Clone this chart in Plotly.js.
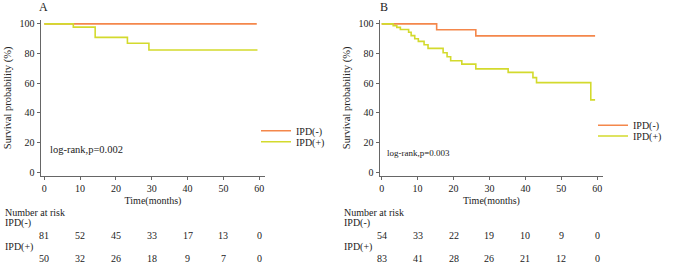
<!DOCTYPE html>
<html>
<head>
<meta charset="utf-8">
<script src="https://cdn.plot.ly/plotly-3.0.1.min.js"></script>
<style>html,body{margin:0;padding:0;background:#fff;}#chart{width:685px;height:271px;}</style>
</head>
<body>
<div id="chart"></div>
<script>
// ---- data ----
const timeTicks = [0, 10, 20, 30, 40, 50, 60];
const seriesNames = ["IPD(-)", "IPD(+)"];

// Panel A
const aNegTime = [0, 59.3];
const aNegSurv = [100, 100];
const aPosTime = [0, 8.1, 14.2, 23.2, 29.2, 59.5];
const aPosSurv = [100, 97.8, 90.9, 86.9, 82.4, 82.4];
const aRiskNeg = [81, 52, 45, 33, 17, 13, 0];
const aRiskPos = [50, 32, 26, 18, 9, 7, 0];
const aPval = "log-rank,p=0.002";

// Panel B
const bNegTime = [0, 15.3, 26.2, 59.4];
const bNegSurv = [100, 96.0, 91.9, 91.9];
const bPosTime = [0, 3.2, 4.2, 5.2, 7.5, 8.2, 9.2, 10.2, 11.8, 12.9, 17.1, 18.2, 19.2, 22.3, 26.2, 35.2, 42.1, 43.1, 58.2, 59.4];
const bPosSurv = [100, 98.8, 97.6, 96.2, 94.3, 92.1, 90.0, 88.2, 85.9, 83.5, 80.5, 77.8, 75.1, 72.9, 69.7, 67.3, 63.8, 60.4, 48.8, 48.8];
const bRiskNeg = [54, 33, 22, 19, 10, 9, 0];
const bRiskPos = [83, 41, 28, 26, 21, 12, 0];
const bPval = "log-rank,p=0.003";

// ---- style ----
const W = 685, H = 271;
const FONT = "Liberation Serif";
const C_NEG = "#F4874B";
const C_POS = "#D3DA2D";
const TXT = "#222";
const px = v => v / W;
const py = v => 1 - v / H;

function trace(x, y, name, color, xa, ya, leg) {
  return {x, y, name, type: "scatter", mode: "lines", line: {shape: "hv", color, width: 1.6},
          xaxis: xa, yaxis: ya, legend: leg, showlegend: true, hoverinfo: "skip"};
}
const data = [
  trace(aNegTime, aNegSurv, seriesNames[0], C_NEG, "x", "y", "legend"),
  trace(aPosTime, aPosSurv, seriesNames[1], C_POS, "x", "y", "legend2"),
  trace(bNegTime, bNegSurv, seriesNames[0], C_NEG, "x2", "y2", "legend3"),
  trace(bPosTime, bPosSurv, seriesNames[1], C_POS, "x2", "y2", "legend4")
];

function xax(domain, range, anchor) {
  return {domain, range, anchor, tickvals: timeTicks, ticks: "outside", ticklen: 3, tickwidth: 1,
          tickcolor: "#666", showline: true, linecolor: "#666", linewidth: 1.5, zeroline: false,
          showgrid: false, tickfont: {family: FONT, size: 10, color: TXT},
          title: {text: "Time(months)", font: {family: FONT, size: 10, color: TXT}, standoff: 4}};
}
function yax(domain, range, anchor) {
  return {domain, range, anchor, tickvals: [0, 20, 40, 60, 80, 100], ticks: "outside", ticklen: 3,
          tickwidth: 1, tickcolor: "#666", showline: true, linecolor: "#666", linewidth: 1.5,
          zeroline: false, showgrid: false, tickfont: {family: FONT, size: 10, color: TXT},
          title: {text: "Survival probability (%)", font: {family: FONT, size: 10.5, color: TXT}, standoff: 6}};
}
function leg(xp, yp) {
  return {x: px(xp), y: py(yp), xanchor: "left", yanchor: "middle", bgcolor: "rgba(0,0,0,0)",
          font: {family: FONT, size: 10, color: TXT}, itemwidth: 30, borderwidth: 0};
}

const annotations = [];
function txt(text, x, y, size, xref, xanchor) {
  annotations.push({text, x, y: py(y), xref: xref || "paper", yref: "paper", showarrow: false,
    xanchor: xanchor || "left", yanchor: "middle", font: {family: FONT, size: size || 10, color: TXT}});
}
// panel letters
txt("A", px(43.7), 6.5, 12, "paper", "center");
txt("B", px(383.7), 6.5, 12, "paper", "center");
// p-values
txt(aPval, px(47.5), 149, 10.5);
txt(bPval, px(385), 152.7, 9);
// risk tables
function riskTable(leftPx, xref, negRisk, posRisk) {
  txt("Number at risk", px(leftPx), 212.7, 10);
  txt(seriesNames[0], px(leftPx), 223, 10);
  txt(seriesNames[1], px(leftPx), 247, 10);
  timeTicks.forEach((t, i) => {
    txt(String(negRisk[i]), t, 235.7, 10, xref, "center");
    txt(String(posRisk[i]), t, 258.3, 10, xref, "center");
  });
}
riskTable(3, "x", aRiskNeg, aRiskPos);
riskTable(342, "x2", bRiskNeg, bRiskPos);

const layout = {
  width: W, height: H, margin: {l: 0, r: 0, t: 0, b: 0}, paper_bgcolor: "#fff", plot_bgcolor: "#fff",
  font: {family: FONT, size: 10, color: TXT},
  xaxis: xax([px(41), px(265)], [-0.92, 61.6], "y"),
  yaxis: yax([py(175.7), py(20)], [-2.3, 102.6], "x"),
  xaxis2: xax([px(380), px(603)], [-0.47, 61.6], "y2"),
  yaxis2: yax([py(175.7), py(20)], [-2.3, 102.6], "x2"),
  legend: leg(256, 130.7),
  legend2: leg(256, 141.7),
  legend3: leg(593, 125.3),
  legend4: leg(593, 136),
  annotations
};
Plotly.newPlot("chart", data, layout, {staticPlot: true, displayModeBar: false});
</script>
</body>
</html>
